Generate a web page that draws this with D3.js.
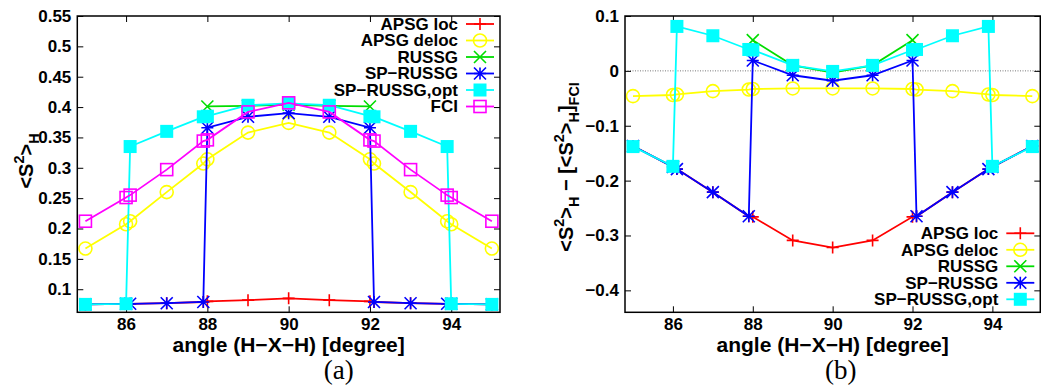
<!DOCTYPE html>
<html>
<head>
<meta charset="utf-8">
<script src="https://cdn.jsdelivr.net/npm/d3@7"></script>
<style>
body { margin: 0; background: #fff; }
svg text { font-family: "Liberation Sans", Arial, sans-serif; font-weight: bold; fill: #000; }
</style>
</head>
<body>
<svg id="chart" width="1041" height="387"></svg>
<script>
// angles (degree); doubled points near 86, 88, 92, 94 are the jumps
const angles = [85, 86, 86.1, 87, 87.9, 88, 89, 90, 91, 92, 92.1, 93, 93.9, 94, 95];
const russgAngles = [88, 89, 90, 91, 92];

// panel (a): <S^2>_H
const apsgLocA    = [0.075, 0.076, 0.076, 0.077, 0.079, 0.080, 0.082, 0.085, 0.082, 0.080, 0.079, 0.077, 0.076, 0.076, 0.075];
const apsgDelocA  = [0.167, 0.207, 0.212, 0.260, 0.307, 0.314, 0.358, 0.374, 0.358, 0.314, 0.307, 0.260, 0.212, 0.207, 0.167];
const russgA      = [0.401, 0.402, 0.404, 0.402, 0.401];
const spRussgA    = [0.075, 0.076, 0.076, 0.077, 0.079, 0.366, 0.384, 0.390, 0.384, 0.366, 0.079, 0.077, 0.076, 0.076, 0.075];
const spRussgOptA = [0.075, 0.076, 0.335, 0.360, 0.384, 0.385, 0.403, 0.406, 0.403, 0.385, 0.384, 0.360, 0.335, 0.076, 0.075];
const fciA        = [0.212, 0.251, 0.255, 0.297, 0.344, 0.346, 0.392, 0.407, 0.392, 0.346, 0.344, 0.297, 0.255, 0.251, 0.212];

// panel (b): <S^2>_H - [<S^2>_H]_FCI
const apsgLocB    = [-0.137, -0.175, -0.179, -0.221, -0.265, -0.266, -0.309, -0.322, -0.309, -0.266, -0.265, -0.221, -0.179, -0.175, -0.137];
const apsgDelocB  = [-0.046, -0.044, -0.043, -0.037, -0.034, -0.033, -0.032, -0.032, -0.032, -0.033, -0.034, -0.037, -0.043, -0.044, -0.046];
const russgB      = [0.056, 0.010, -0.003, 0.010, 0.056];
const spRussgB    = [-0.137, -0.175, -0.179, -0.221, -0.265, 0.019, -0.008, -0.018, -0.008, 0.019, -0.265, -0.221, -0.179, -0.175, -0.137];
const spRussgOptB = [-0.138, -0.174, 0.081, 0.064, 0.039, 0.038, 0.010, -0.001, 0.010, 0.038, 0.039, 0.064, 0.081, -0.174, -0.138];

const names = ['APSG loc', 'APSG deloc', 'RUSSG', 'SP\u2212RUSSG', 'SP\u2212RUSSG,opt', 'FCI'];
const xTicks = [86, 88, 90, 92, 94];
const yTicksA = [0.1, 0.15, 0.2, 0.25, 0.3, 0.35, 0.4, 0.45, 0.5, 0.55];
const yTicksB = [0.1, 0, -0.1, -0.2, -0.3, -0.4];

// style per series (same order as names)
const styles = [
    {color: '#ff0000', mark: 'plus'},
    {color: '#ffff00', mark: 'circle'},
    {color: '#00dd00', mark: 'cross'},
    {color: '#0000ff', mark: 'star'},
    {color: '#00ffff', mark: 'fsquare'},
    {color: '#ff00ff', mark: 'square'}
];

const svg = d3.select('#chart');

function drawMarker(g, type, x, y, color) {
    const s = 6;
    if (type === 'plus') {
        g.append('path').attr('d', `M${x-s},${y}H${x+s}M${x},${y-s}V${y+s}`)
            .attr('stroke', color).attr('stroke-width', 1.6);
    } else if (type === 'circle') {
        g.append('circle').attr('cx', x).attr('cy', y).attr('r', 6.5)
            .attr('fill', 'none').attr('stroke', color).attr('stroke-width', 1.6);
    } else if (type === 'cross') {
        g.append('path').attr('d', `M${x-s},${y-s}L${x+s},${y+s}M${x-s},${y+s}L${x+s},${y-s}`)
            .attr('stroke', color).attr('stroke-width', 1.6);
    } else if (type === 'star') {
        g.append('path').attr('d', `M${x-s},${y}H${x+s}M${x},${y-s}V${y+s}M${x-s},${y-s}L${x+s},${y+s}M${x-s},${y+s}L${x+s},${y-s}`)
            .attr('stroke', color).attr('stroke-width', 1.6);
    } else if (type === 'fsquare') {
        g.append('rect').attr('x', x - 6.5).attr('y', y - 6.5).attr('width', 13).attr('height', 13)
            .attr('fill', color);
    } else if (type === 'square') {
        g.append('rect').attr('x', x - 6).attr('y', y - 6).attr('width', 12).attr('height', 12)
            .attr('fill', 'none').attr('stroke', color).attr('stroke-width', 1.6);
    }
}

// text with super/subscripts, parts = [[text, 'n'|'sup'|'sub'], ...]
function richText(t, parts, fs) {
    let cur = 0;
    parts.forEach(p => {
        const target = p[1] === 'sup' ? -0.45 * fs : (p[1] === 'sub' ? 0.3 * fs : 0);
        t.append('tspan')
            .attr('dy', target - cur)
            .attr('font-size', p[1] === 'n' ? fs : fs * 0.72)
            .text(p[0]);
        cur = target;
    });
}

function drawPanel(cfg) {
    const x = d3.scaleLinear().domain([84.8, 95.2]).range([cfg.left, cfg.right]);
    const y = d3.scaleLinear().domain(cfg.yDomain).range([cfg.bottom, cfg.top]);
    const g = svg.append('g');

    if (cfg.zeroLine) {
        g.append('line')
            .attr('x1', cfg.left).attr('x2', cfg.right)
            .attr('y1', y(0)).attr('y2', y(0))
            .attr('stroke', '#555').attr('stroke-width', 0.8)
            .attr('stroke-dasharray', '1,1.5');
    }

    // axes with inward ticks on all sides
    const axB = g.append('g').attr('transform', `translate(0,${cfg.bottom})`)
        .call(d3.axisBottom(x).tickValues(xTicks).tickSizeInner(-6).tickSizeOuter(0).tickPadding(6));
    g.append('g').attr('transform', `translate(0,${cfg.top})`)
        .call(d3.axisTop(x).tickValues(xTicks).tickSizeInner(-6).tickSizeOuter(0).tickFormat(''));
    const axL = g.append('g').attr('transform', `translate(${cfg.left},0)`)
        .call(d3.axisLeft(y).tickValues(cfg.yTicks).tickSizeInner(-6).tickSizeOuter(0).tickPadding(6).tickFormat(cfg.fmt));
    g.append('g').attr('transform', `translate(${cfg.right},0)`)
        .call(d3.axisRight(y).tickValues(cfg.yTicks).tickSizeInner(-6).tickSizeOuter(0).tickFormat(''));
    g.selectAll('.domain').remove();
    g.selectAll('.tick line').attr('stroke', '#000').attr('stroke-width', 1);
    axB.selectAll('text').attr('font-size', 17).attr('font-family', null);
    axL.selectAll('text').attr('font-size', 17).attr('font-family', null);

    // series
    cfg.series.forEach((s, i) => {
        const st = styles[i];
        const pts = s.xs.map((a, k) => [a, s.ys[k]]);
        const sg = g.append('g');
        sg.append('path')
            .attr('d', d3.line().x(d => x(d[0])).y(d => y(d[1]))(pts))
            .attr('fill', 'none').attr('stroke', st.color).attr('stroke-width', 1.8);
        pts.forEach(d => drawMarker(sg, st.mark, x(d[0]), y(d[1]), st.color));
    });

    // legend
    cfg.series.forEach((s, i) => {
        const st = styles[i];
        const ly = cfg.legendY + i * 16.5;
        const mx = cfg.right - 20;
        g.append('text')
            .attr('x', mx - 22).attr('y', ly).attr('dy', '0.35em')
            .attr('text-anchor', 'end').attr('font-size', 17)
            .text(names[i]);
        g.append('line')
            .attr('x1', mx - 14).attr('x2', mx + 14).attr('y1', ly).attr('y2', ly)
            .attr('stroke', st.color).attr('stroke-width', 1.8);
        drawMarker(g, st.mark, mx, ly, st.color);
    });

    // frame
    g.append('rect')
        .attr('x', cfg.left).attr('y', cfg.top)
        .attr('width', cfg.right - cfg.left).attr('height', cfg.bottom - cfg.top)
        .attr('fill', 'none').attr('stroke', '#000').attr('stroke-width', 1.5);

    // axis titles
    const mid = (cfg.left + cfg.right) / 2;
    g.append('text')
        .attr('x', mid).attr('y', 352)
        .attr('text-anchor', 'middle').attr('font-size', 21)
        .text('angle (H\u2212X\u2212H) [degree]');
    const yt = g.append('text')
        .attr('transform', `translate(${cfg.yTitleX},${cfg.yTitleY}) rotate(-90)`)
        .attr('text-anchor', 'middle');
    richText(yt, cfg.yTitle, 20);

    // caption
    g.append('text')
        .attr('x', mid + cfg.capShift).attr('y', 379)
        .attr('text-anchor', 'middle')
        .style('font-family', '"Liberation Serif", "DejaVu Serif", serif')
        .style('font-weight', 'normal')
        .attr('font-size', 27)
        .text(cfg.caption);
}

drawPanel({
    left: 77.3, right: 500, top: 16, bottom: 312.3,
    yDomain: [0.062, 0.55], yTicks: yTicksA,
    fmt: d => String(+d.toFixed(2)),
    series: [
        {xs: angles, ys: apsgLocA},
        {xs: angles, ys: apsgDelocA},
        {xs: russgAngles, ys: russgA},
        {xs: angles, ys: spRussgA},
        {xs: angles, ys: spRussgOptA},
        {xs: angles, ys: fciA}
    ],
    legendY: 24,
    yTitle: [['<S', 'n'], ['2', 'sup'], ['>', 'n'], ['H', 'sub']],
    yTitleX: 33, yTitleY: 161,
    caption: '(a)', capShift: 50
});

drawPanel({
    left: 625, right: 1040.3, top: 16, bottom: 312.3,
    yDomain: [-0.44, 0.1], yTicks: yTicksB,
    fmt: d => d === 0 ? '0' : d3.format('.1f')(d),
    zeroLine: true,
    series: [
        {xs: angles, ys: apsgLocB},
        {xs: angles, ys: apsgDelocB},
        {xs: russgAngles, ys: russgB},
        {xs: angles, ys: spRussgB},
        {xs: angles, ys: spRussgOptB}
    ],
    legendY: 233.3,
    yTitle: [['<S', 'n'], ['2', 'sup'], ['>', 'n'], ['H', 'sub'], [' \u2212 [<S', 'n'], ['2', 'sup'], ['>', 'n'], ['H', 'sub'], [']', 'n'], ['FCI', 'sub']],
    yTitleX: 573, yTitleY: 167,
    caption: '(b)', capShift: 8
});
</script>
</body>
</html>
